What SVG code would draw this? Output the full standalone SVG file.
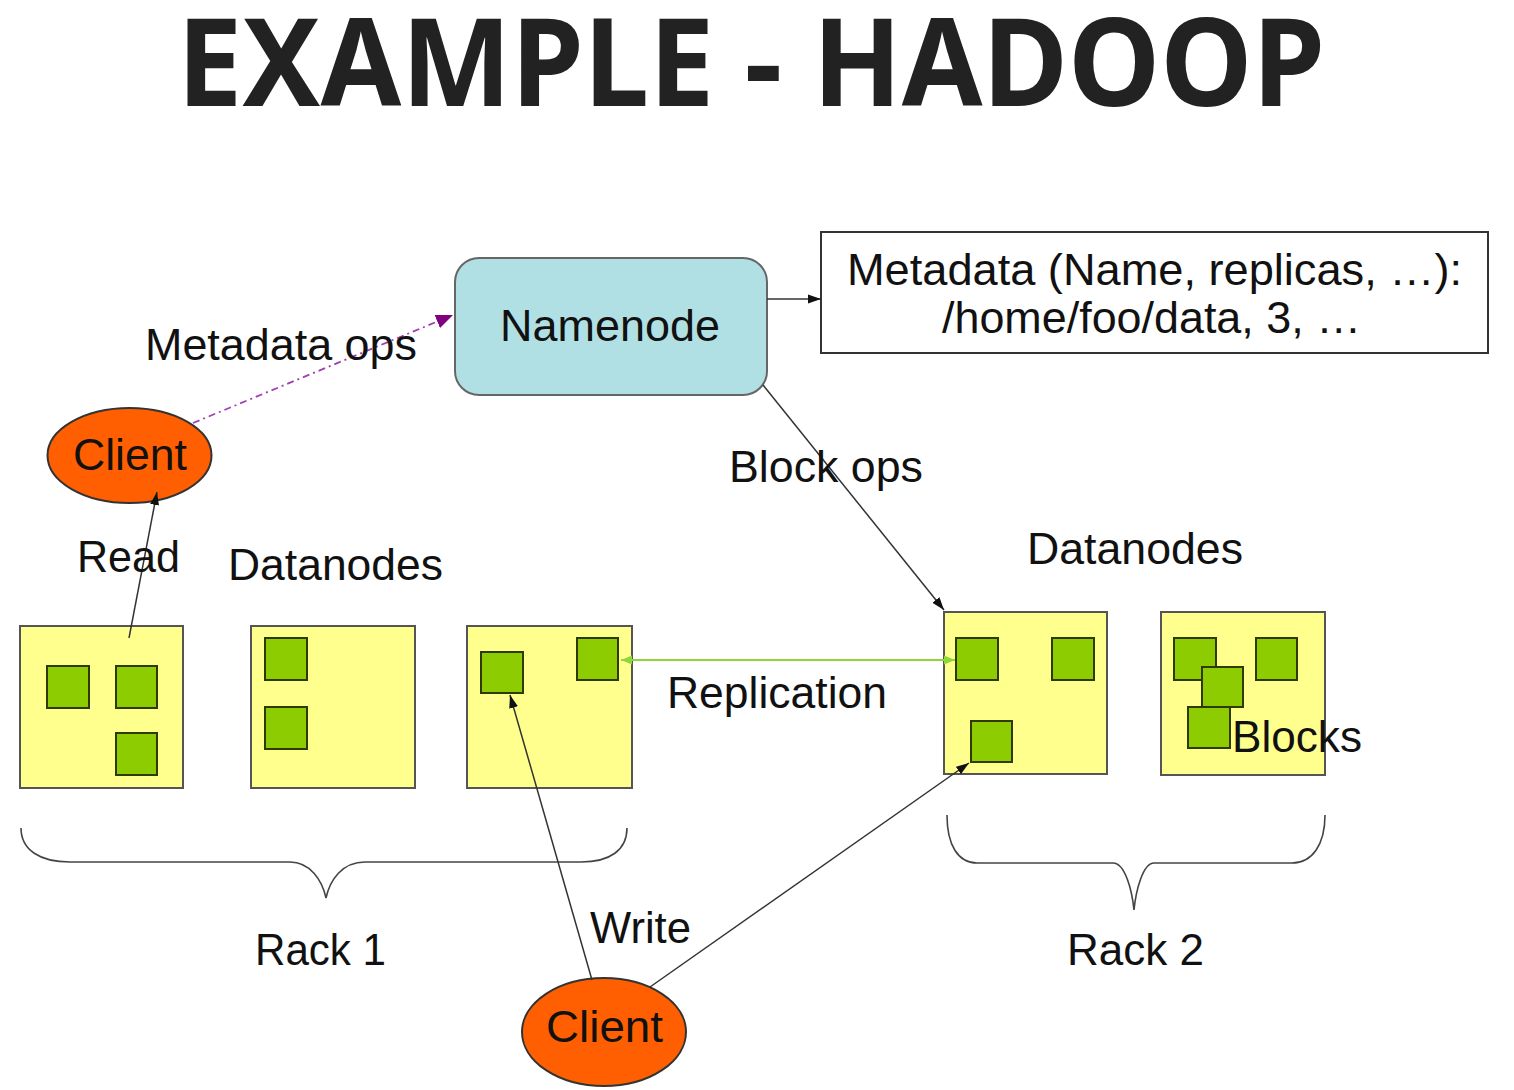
<svg xmlns="http://www.w3.org/2000/svg" width="1514" height="1090" viewBox="0 0 1514 1090">
<style>
.lbl{font-family:"Liberation Sans",Arial,sans-serif;font-size:45px;fill:#111}
.rack{fill:#ffff8e;stroke:#555;stroke-width:2}
.blk{fill:#8ccc00;stroke:#2e3a00;stroke-width:2}
.client{fill:#ff5f00;stroke:#333;stroke-width:2}
.conn{fill:none;stroke:#333;stroke-width:1.5}
.brace{fill:none;stroke:#444;stroke-width:1.6}
</style>
<defs>
<marker id="ab" markerUnits="userSpaceOnUse" markerWidth="14" markerHeight="10" refX="13" refY="5" orient="auto"><path d="M0,0.5 L13,5 L0,9.5 z" fill="#111"/></marker>
<marker id="ap" markerUnits="userSpaceOnUse" markerWidth="18" markerHeight="14" refX="17" refY="7" orient="auto"><path d="M0,0 L17,7 L0,14 z" fill="#800080"/></marker>
<marker id="ag" markerUnits="userSpaceOnUse" markerWidth="12" markerHeight="10" refX="11" refY="5" orient="auto-start-reverse"><path d="M0,0.5 L11,5 L0,9.5 z" fill="#8fd63a"/></marker>
</defs>
<rect width="1514" height="1090" fill="#fff"/>
<text x="177" y="106" font-family="'Noto Sans','Open Sans',sans-serif" font-weight="700" font-size="122" fill="#222" textLength="1148" lengthAdjust="spacingAndGlyphs">EXAMPLE - HADOOP</text>

<g id="namenode">
<rect x="455" y="258" width="312" height="137" rx="24" fill="#b0e0e4" stroke="#666" stroke-width="2"/>
<text class="lbl" x="500" y="341" textLength="220" lengthAdjust="spacingAndGlyphs">Namenode</text>
</g>

<g id="metadata">
<rect x="821" y="232" width="667" height="121" fill="#fff" stroke="#333" stroke-width="2"/>
<text class="lbl" x="847" y="285" font-size="48" textLength="615" lengthAdjust="spacingAndGlyphs">Metadata (Name, replicas, …):</text>
<text class="lbl" x="942" y="333" font-size="48" textLength="419" lengthAdjust="spacingAndGlyphs">/home/foo/data, 3, …</text>
</g>

<g id="client-read">
<ellipse class="client" cx="129.5" cy="455.5" rx="82" ry="47.5"/>
<text class="lbl" x="73" y="470" textLength="114" lengthAdjust="spacingAndGlyphs">Client</text>
</g>

<g id="client-write">
<ellipse class="client" cx="604" cy="1032" rx="82" ry="54"/>
<text class="lbl" x="546" y="1042" textLength="117" lengthAdjust="spacingAndGlyphs">Client</text>
</g>

<g id="dn1">
<rect class="rack" x="20" y="626" width="163" height="162"/>
<rect class="blk" x="47" y="666" width="42" height="42"/>
<rect class="blk" x="116" y="666" width="41" height="42"/>
<rect class="blk" x="116" y="733" width="41" height="42"/>
</g>
<g id="dn2">
<rect class="rack" x="251" y="626" width="164" height="162"/>
<rect class="blk" x="265" y="638" width="42" height="42"/>
<rect class="blk" x="265" y="707" width="42" height="42"/>
</g>
<g id="dn3">
<rect class="rack" x="467" y="626" width="165" height="162"/>
<rect class="blk" x="481" y="652" width="42" height="41"/>
<rect class="blk" x="577" y="638" width="41" height="42"/>
</g>
<g id="dn4">
<rect class="rack" x="944" y="612" width="163" height="162"/>
<rect class="blk" x="956" y="638" width="42" height="42"/>
<rect class="blk" x="1052" y="638" width="42" height="42"/>
<rect class="blk" x="971" y="721" width="41" height="41"/>
</g>
<g id="dn5">
<rect class="rack" x="1161" y="612" width="164" height="163"/>
<rect class="blk" x="1174" y="638" width="42" height="42"/>
<rect class="blk" x="1202" y="667" width="41" height="40"/>
<rect class="blk" x="1188" y="707" width="42" height="41"/>
<rect class="blk" x="1256" y="638" width="41" height="42"/>
<text class="lbl" x="1232" y="752" textLength="130" lengthAdjust="spacingAndGlyphs">Blocks</text>
</g>

<g id="rack1">
<path class="brace" d="M21,828 C21,850 40,862 70,862 L290,862 C310,862 322,880 326,898 C330,880 342,862 365,862 L581,862 C610,862 627,850 627,828"/>
<text class="lbl" x="255" y="965" textLength="131" lengthAdjust="spacingAndGlyphs">Rack 1</text>
</g>
<g id="rack2">
<path class="brace" d="M947,815 C947,845 958,863 977,863 L1113,863 C1125,863 1132,890 1134,910 C1136,890 1143,863 1154,863 L1292,863 C1312,863 1325,845 1325,815"/>
<text class="lbl" x="1067" y="965" textLength="137" lengthAdjust="spacingAndGlyphs">Rack 2</text>
</g>

<g id="connectors">
<line class="conn" x1="767" y1="299" x2="821" y2="299" marker-end="url(#ab)"/>
<line x1="193" y1="423" x2="453" y2="315" stroke="#a040b0" stroke-width="1.8" stroke-dasharray="7 4 2 4" marker-end="url(#ap)"/>
<line class="conn" x1="763" y1="385" x2="944" y2="610" marker-end="url(#ab)"/>
<line class="conn" x1="129" y1="638" x2="157" y2="492" marker-end="url(#ab)"/>
<line x1="621" y1="660" x2="955" y2="660" stroke="#8fd63a" stroke-width="2" marker-start="url(#ag)" marker-end="url(#ag)"/>
<line class="conn" x1="592" y1="980" x2="510" y2="695" marker-end="url(#ab)"/>
<line class="conn" x1="650" y1="987" x2="969" y2="763" marker-end="url(#ab)"/>
</g>

<g id="labels">
<text class="lbl" x="145" y="360" textLength="272" lengthAdjust="spacingAndGlyphs">Metadata ops</text>
<text class="lbl" x="729" y="482" textLength="194" lengthAdjust="spacingAndGlyphs">Block ops</text>
<text class="lbl" x="77" y="572" textLength="103" lengthAdjust="spacingAndGlyphs">Read</text>
<text class="lbl" x="228" y="580" textLength="215" lengthAdjust="spacingAndGlyphs">Datanodes</text>
<text class="lbl" x="1027" y="564" textLength="216" lengthAdjust="spacingAndGlyphs">Datanodes</text>
<text class="lbl" x="667" y="708" textLength="220" lengthAdjust="spacingAndGlyphs">Replication</text>
<text class="lbl" x="590" y="943" textLength="101" lengthAdjust="spacingAndGlyphs">Write</text>
</g>
</svg>
